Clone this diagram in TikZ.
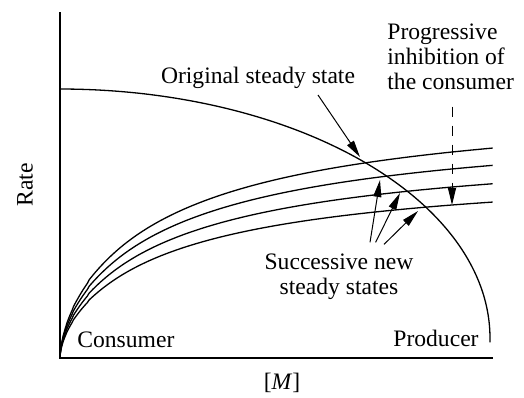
\documentclass[tikz,border=0pt]{standalone}
\usepackage{fontspec}
\setmainfont{Liberation Serif}
\usetikzlibrary{arrows.meta}

\begin{document}
\begin{tikzpicture}[x=0.5pt, y=-0.5pt,
every node/.style={font=\fontsize{11.8}{12.3}\selectfont, inner sep=0pt},
axis line/.style={line width=1.2pt},
rate curve/.style={line width=0.65pt},
pointer/.style={line width=0.5pt, -{Triangle[length=8.5pt,width=4pt]}}]

\useasboundingbox (0,0) rectangle (524,397);

% axes
\draw[axis line] (60,12) -- (60,358) -- (493,358);

% producer
\draw[rate curve] plot[domain=-90:1, samples=100] ({60+430*cos(\x)}, {338+249*sin(\x)});

% consumer, one curve per level of inhibition
\foreach \v in {262.4,240.8,217.8,194.9}
  \draw[rate curve] (60,358) -- plot[domain=0.01:1, samples=120]
    ({60+433*\x*\x}, {358-\v*((433*\x*\x)/(433*\x*\x+195))^0.6});

\node[anchor=base] (orig) at (258,83) {Original steady state};
\node[anchor=base west, align=left] (prog) at (387,89) {Progressive\\inhibition of\\the consumer};
\node[anchor=base, align=center] (succ) at (339,294) {Successive new\\steady states};
\node[anchor=base west] (cons) at (77,347) {Consumer};
\node[anchor=base west] (prod) at (393,346) {Producer};
\node[rotate=90] (rate) at (25,185) {Rate};
\node (conc) at (282,383) {[\textit{M}]};

\coordinate (ss0) at (360,157);
\coordinate (ss1) at (380,180);
\coordinate (ss2) at (400,193);
\coordinate (ss3) at (418,211);
\coordinate (dtip) at (452,205);

\path[pointer]
([xshift=30pt,yshift=-6pt]orig.base) edge (ss0)
([xshift=15.5pt,yshift=5.5pt]succ.north) edge (ss1)
([xshift=18.3pt,yshift=5.5pt]succ.north) edge (ss2)
([xshift=22.5pt,yshift=4.5pt]succ.north) edge (ss3);

\draw[pointer, dash pattern=on 5pt off 4.5pt] ([yshift=-8.5pt]prog.south -| dtip) -- (dtip);
\end{tikzpicture}
\end{document}
